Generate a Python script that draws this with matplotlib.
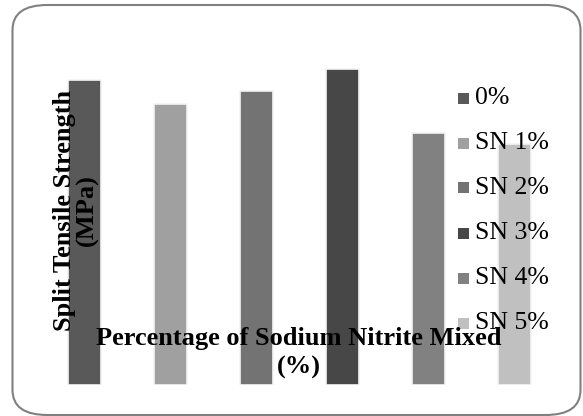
# Split tensile strength vs sodium nitrite content

import numpy as np
import matplotlib
matplotlib.use('Agg')
import matplotlib.pyplot as plt
from matplotlib.patches import FancyBboxPatch

labels = ['0%', 'SN 1%', 'SN 2%', 'SN 3%', 'SN 4%', 'SN 5%']
strength = [3.05, 2.81, 2.94, 3.16, 2.52, 2.41]
colors = ['#595959', '#a0a0a0', '#737373', '#474747', '#818181', '#c0c0c0']

plt.rcParams['font.family'] = ['Liberation Serif', 'DejaVu Serif']

W, H = 583, 416
fig = plt.figure(figsize=(W / 100, H / 100), dpi=100)

# rounded chart frame
frame = FancyBboxPatch((12.5 / W, 1 - 415 / H), (580.5 - 12.5) / W, (415 - 5) / H,
                       boxstyle='round,pad=0,rounding_size=0.06',
                       transform=fig.transFigure, facecolor='white',
                       edgecolor='#808080', linewidth=1.5, zorder=0)
fig.patches.append(frame)

# plot area: bar centres 86 px apart, first one at x=84.5, base at y=385
ax = fig.add_axes([41.5 / W, 1 - 385 / H, 6 * 86 / W, (385 - 60) / H])
ax.set_zorder(1)
ax.patch.set_visible(False)

x = np.arange(len(labels))
for i in range(len(labels)):
    ax.bar(x[i], strength[i], width=33 / 86, color=colors[i], edgecolor='#f4f4f4',
           linewidth=1.2, label=labels[i])
ax.set_xlim(-0.5, 5.5)
ax.set_ylim(0, 3.25)
ax.axis('off')

# axis titles drawn as in the original (overlapping the bars)
fig.text(76 / W, 1 - 210 / H, 'Split Tensile Strength\n(MPa)', rotation=90,
         ha='center', va='center', fontsize=19, fontweight='bold',
         linespacing=0.95, zorder=5)
fig.text(299 / W, 1 - 353 / H, 'Percentage of Sodium Nitrite Mixed\n(%)',
         ha='center', va='center', fontsize=19, fontweight='bold',
         linespacing=1.3, zorder=5)

# legend
for i, lab in enumerate(labels):
    yy = 1 - (98 + 45 * i) / H
    fig.patches.append(plt.Rectangle((458 / W, yy - 5.5 / H), 11 / W, 11 / H,
                                     transform=fig.transFigure, facecolor=colors[i],
                                     edgecolor='none', zorder=3))
    fig.text(475 / W, yy, lab, ha='left', va='center', fontsize=18.5, zorder=3)

plt.savefig('out.png', dpi=100)
